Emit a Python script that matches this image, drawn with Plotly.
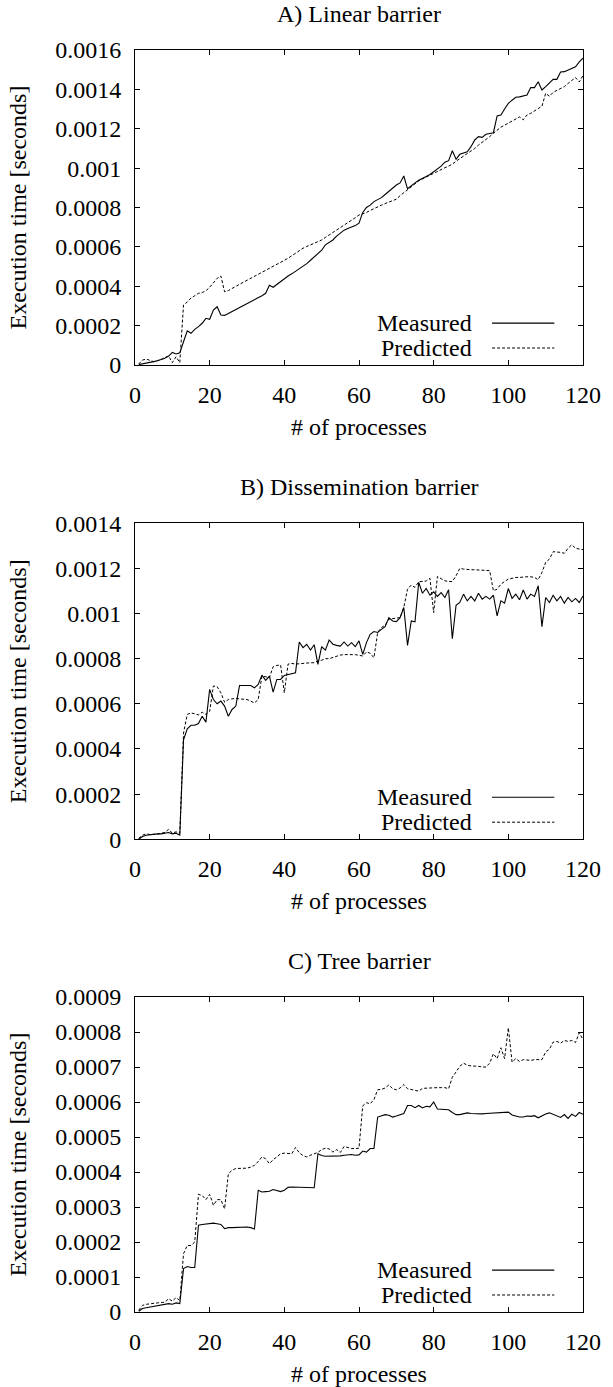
import numpy as np
import plotly.graph_objects as go

# ---------------- data (values in microseconds, converted to seconds) ----------------
processes = list(range(1, 121))

linear_measured_us = [
    2, 5, 9, 13, 17, 22, 27, 34, 45, 64,
    56, 62, 118, 174, 161, 181, 195, 212, 237, 232,
    279, 296, 254, 252, 262, 272, 282, 290, 300, 310,
    320, 330, 342, 352, 364, 405, 395, 410, 425, 440,
    452, 463, 475, 487, 500, 515, 532, 548, 565, 583,
    610, 623, 635, 655, 672, 685, 693, 700, 708, 720,
    775, 800, 812, 830, 840, 850, 866, 882, 900, 914,
    925, 960, 895, 912, 925, 938, 950, 958, 968, 982,
    995, 1010, 1030, 1038, 1088, 1045, 1070, 1075, 1083, 1109,
    1143, 1160, 1156, 1172, 1177, 1180, 1265, 1270, 1300, 1329,
    1345, 1360, 1362, 1366, 1371, 1409, 1409, 1439, 1397, 1414,
    1431, 1451, 1451, 1488, 1490, 1498, 1505, 1515, 1540, 1558,
]
linear_predicted_us = [
    5, 25, 30, 22, 17, 22, 28, 38, 46, 12,
    42, 12, 305, 320, 340, 352, 364, 368, 377, 395,
    415, 440, 452, 372, 378, 390, 400, 410, 420, 430,
    440, 450, 460, 470, 480, 490, 500, 510, 520, 530,
    542, 555, 568, 580, 593, 602, 610, 618, 626, 635,
    648, 660, 672, 685, 698, 710, 722, 735, 748, 762,
    768, 775, 785, 795, 804, 812, 820, 828, 835, 842,
    860, 875, 890, 905, 923, 935, 945, 955, 965, 974,
    983, 993, 1002, 1010, 1020, 1035, 1048, 1062, 1075, 1085,
    1100, 1117, 1130, 1145, 1160, 1177, 1195, 1208, 1218, 1228,
    1238, 1250, 1260, 1245, 1270, 1278, 1290, 1305, 1315, 1380,
    1365, 1385, 1395, 1405, 1414, 1430, 1445, 1460, 1438, 1470,
]

dissem_measured_us = [
    0, 12, 18, 21, 21, 24, 24, 27, 30, 24,
    27, 18, 441, 489, 505, 505, 513, 545, 519, 664,
    619, 600, 612, 590, 545, 575, 590, 681, 681, 681,
    681, 671, 686, 727, 704, 723, 652, 708, 708, 726,
    730, 735, 738, 874, 849, 864, 838, 862, 775, 853,
    838, 883, 864, 859, 856, 874, 856, 871, 853, 879,
    819, 871, 908, 920, 916, 930, 942, 982, 967, 964,
    982, 1027, 859, 967, 963, 1138, 1090, 1111, 1081, 1096,
    1076, 1093, 1071, 1105, 889, 1037, 1049, 1086, 1056, 1076,
    1056, 1090, 1064, 1076, 1064, 1081, 990, 1056, 1046, 1111,
    1067, 1086, 1061, 1104, 1064, 1086, 1076, 1123, 942, 1071,
    1049, 1081, 1056, 1076, 1046, 1071, 1052, 1067, 1049, 1078,
]
dissem_predicted_us = [
    4, 18, 24, 21, 22, 22, 27, 30, 44, 27,
    33, 27, 471, 553, 560, 556, 551, 563, 553, 567,
    679, 676, 649, 607, 619, 622, 624, 622, 622, 619,
    612, 604, 619, 723, 720, 716, 764, 770, 772, 649,
    776, 779, 776, 778, 779, 779, 782, 782, 790, 793,
    800, 800, 806, 812, 816, 818, 819, 819, 818, 815,
    812, 830, 824, 804, 916, 938, 948, 975, 978, 979,
    982, 1027, 1108, 1126, 1116, 1141, 1142, 1144, 1156, 1004,
    1164, 1156, 1145, 1142, 1142, 1167, 1200, 1197, 1194, 1194,
    1194, 1193, 1194, 1194, 1190, 1101, 1108, 1130, 1141, 1153,
    1156, 1160, 1160, 1163, 1163, 1163, 1160, 1150, 1182, 1227,
    1241, 1274, 1274, 1271, 1267, 1289, 1305, 1289, 1286, 1283,
]

tree_measured_us = [
    2, 10, 12, 14, 16, 17, 18, 20, 24, 22,
    26, 24, 124, 130, 127, 127, 248, 250, 252, 254,
    254, 252, 250, 238, 241, 241, 242, 243, 243, 243,
    241, 237, 348, 343, 344, 345, 350, 348, 344, 348,
    356, 357, 357, 357, 357, 357, 357, 355, 452, 447,
    445, 445, 446, 446, 446, 448, 449, 450, 448, 449,
    460, 457, 467, 467, 557, 561, 564, 562, 557, 560,
    564, 567, 590, 590, 584, 590, 583, 588, 586, 600,
    580, 579, 578, 578, 570, 564, 564, 567, 569, 567,
    566, 565, 566, 567, 568, 569, 569, 570, 570, 571,
    563, 560, 557, 557, 560, 559, 561, 555, 561, 566,
    569, 565, 561, 556, 564, 553, 565, 559, 570, 565,
]
tree_predicted_us = [
    5, 19, 22, 24, 25, 26, 27, 28, 38, 31,
    41, 33, 167, 190, 190, 200, 336, 333, 321, 336,
    305, 321, 321, 295, 395, 405, 410, 410, 410, 411,
    414, 419, 430, 443, 438, 424, 435, 443, 452, 454,
    452, 452, 470, 455, 447, 443, 448, 452, 456, 464,
    468, 466, 457, 464, 456, 473, 470, 467, 467, 468,
    589, 598, 595, 607, 635, 636, 640, 649, 638, 635,
    640, 650, 638, 636, 635, 631, 639, 640, 641, 641,
    641, 641, 641, 638, 671, 686, 702, 711, 705, 703,
    703, 702, 700, 700, 711, 738, 724, 755, 724, 812,
    714, 724, 716, 721, 720, 719, 721, 722, 721, 743,
    751, 771, 773, 768, 776, 773, 776, 770, 798, 778,
]

panel_titles = ["A) Linear barrier", "B) Dissemination barrier", "C) Tree barrier"]
series_names = ["Measured", "Predicted"]
x_tick_vals = [0, 20, 40, 60, 80, 100, 120]
x_tick_text = ["0", "20", "40", "60", "80", "100", "120"]
y_ticks_a = [0, 0.0002, 0.0004, 0.0006, 0.0008, 0.001, 0.0012, 0.0014, 0.0016]
y_text_a = ["0", "0.0002", "0.0004", "0.0006", "0.0008", "0.001", "0.0012", "0.0014", "0.0016"]
y_ticks_b = [0, 0.0002, 0.0004, 0.0006, 0.0008, 0.001, 0.0012, 0.0014]
y_text_b = ["0", "0.0002", "0.0004", "0.0006", "0.0008", "0.001", "0.0012", "0.0014"]
y_ticks_c = [0, 0.0001, 0.0002, 0.0003, 0.0004, 0.0005, 0.0006, 0.0007, 0.0008, 0.0009]
y_text_c = ["0", "0.0001", "0.0002", "0.0003", "0.0004", "0.0005", "0.0006", "0.0007", "0.0008", "0.0009"]
x_label = "# of processes"
y_label = "Execution time [seconds]"

# ---------------- figure ----------------
FONT = "Times New Roman, Liberation Serif, Tinos, Nimbus Roman, DejaVu Serif, serif"
FS = 24
W, H = 613, 1387

panels = [
    (linear_measured_us, linear_predicted_us, y_ticks_a, y_text_a, [0.7504, 1.0]),
    (dissem_measured_us, dissem_predicted_us, y_ticks_b, y_text_b, [0.3746, 0.6250]),
    (tree_measured_us, tree_predicted_us, y_ticks_c, y_text_c, [0.0, 0.2496]),
]

fig = go.Figure()
layout = dict(
    width=W, height=H,
    margin=dict(l=135, r=25, t=50, b=75),
    paper_bgcolor="white", plot_bgcolor="white",
    font=dict(family=FONT, size=FS, color="black"),
    showlegend=False,
)
annotations = []
shapes = []

for i, (meas, pred, yt, ytt, dom) in enumerate(panels):
    n = i + 1
    xa = "x" if n == 1 else f"x{n}"
    ya = "y" if n == 1 else f"y{n}"
    meas_s = np.array(meas) / 1e6
    pred_s = np.array(pred) / 1e6
    fig.add_trace(go.Scatter(x=processes, y=meas_s, mode="lines", name=series_names[0],
                             line=dict(color="black", width=1.1), xaxis=xa, yaxis=ya))
    fig.add_trace(go.Scatter(x=processes, y=pred_s, mode="lines", name=series_names[1],
                             line=dict(color="black", width=1, dash="3px,2px"), xaxis=xa, yaxis=ya))
    axcommon = dict(showgrid=False, zeroline=False, showline=True, linecolor="black", linewidth=1,
                    mirror="allticks", ticks="inside", ticklen=5, tickcolor="black", tickwidth=1,
                    tickfont=dict(family=FONT, size=FS, color="black"))
    layout["xaxis" if n == 1 else f"xaxis{n}"] = dict(
        axcommon, range=[0, 120], tickvals=x_tick_vals, ticktext=x_tick_text,
        domain=[0, 1], anchor=ya, ticklabelstandoff=8)
    layout["yaxis" if n == 1 else f"yaxis{n}"] = dict(
        axcommon, range=[yt[0], yt[-1]], tickvals=yt, ticktext=ytt,
        domain=dom, anchor=xa, ticklabelstandoff=8)

    xd = f"{xa} domain"
    yd = f"{ya} domain"
    annotations.append(dict(text=panel_titles[i], xref=xd, yref=yd, x=0.5, y=1,
                            xanchor="center", yanchor="middle", yshift=36, showarrow=False))
    annotations.append(dict(text=x_label, xref=xd, yref=yd, x=0.5, y=0,
                            xanchor="center", yanchor="middle", yshift=-62, showarrow=False))
    annotations.append(dict(text=y_label, xref=xd, yref=yd, x=0, y=0.5, textangle=-90,
                            xanchor="center", yanchor="middle", xshift=-117, showarrow=False))
    # legend (gnuplot style: text then line sample)
    for k, (name, yy, dash) in enumerate([(series_names[0], 0.133, "solid"),
                                          (series_names[1], 0.054, "3px,2px")]):
        annotations.append(dict(text=name, xref=xd, yref=yd, x=0.757, y=yy,
                                xanchor="right", yanchor="middle", showarrow=False))
        shapes.append(dict(type="line", xref=xd, yref=yd, x0=0.797, x1=0.936, y0=yy, y1=yy,
                           line=dict(color="black", width=1.1 if k == 0 else 1, dash=dash)))

layout["annotations"] = annotations
layout["shapes"] = shapes
fig.update_layout(**layout)
fig.write_html("out.html")
